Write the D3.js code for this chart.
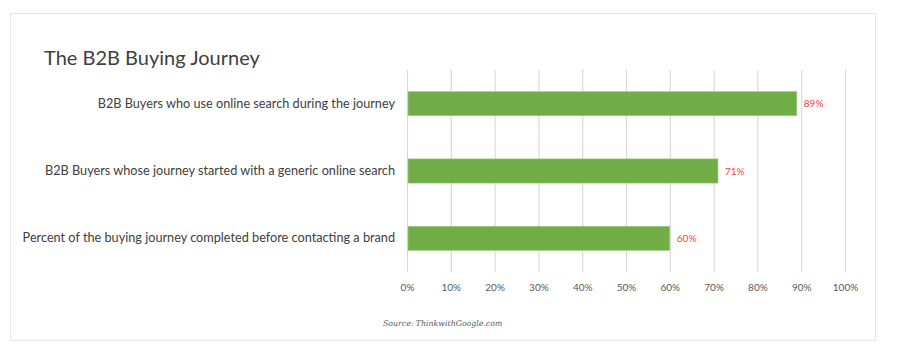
<!DOCTYPE html>
<html>
<head>
<meta charset="utf-8">
<script src="https://cdn.jsdelivr.net/npm/d3@7"></script>
<style>
  html, body { margin: 0; padding: 0; background: #fff; }
  svg { display: block; }
</style>
</head>
<body>
<svg id="chart" width="899" height="354"></svg>
<script>
const title = "The B2B Buying Journey";
const categories = [
  "B2B Buyers who use online search during the journey",
  "B2B Buyers whose journey started with a generic online search",
  "Percent of the buying journey completed before contacting a brand"
];
const values = [0.89, 0.71, 0.60];
const tickValues = [0, 0.1, 0.2, 0.3, 0.4, 0.5, 0.6, 0.7, 0.8, 0.9, 1.0];
const source = "Source: ThinkwithGoogle.com";

const svg = d3.select("#chart");
const font = "Lato, 'Open Sans', sans-serif";

// outer frame
svg.append("rect")
  .attr("x", 10.5).attr("y", 13.5)
  .attr("width", 865).attr("height", 327)
  .attr("fill", "#fff").attr("stroke", "#e6e6e6").attr("stroke-width", 1);

svg.append("text")
  .attr("x", 44).attr("y", 65)
  .attr("font-family", font).attr("font-size", 20)
  .attr("fill", "#404040")
  .text(title);

const x = d3.scaleLinear().domain([0, 1]).range([407, 845]);
const y = d3.scaleBand().domain(categories).range([70, 272]).paddingInner(0.64).paddingOuter(0.32);

// gridlines
svg.append("g").selectAll("line").data(tickValues).join("line")
  .attr("x1", d => x(d) + 0.5).attr("x2", d => x(d) + 0.5)
  .attr("y1", 70).attr("y2", 272)
  .attr("stroke", "#d9d9d9").attr("stroke-width", 1.2);

// x axis labels
const xAxis = d3.axisBottom(x).tickValues(tickValues).tickFormat(d3.format(".0%")).tickSize(0).tickPadding(0);
const gx = svg.append("g").attr("transform", "translate(0,284)").call(xAxis);
gx.select(".domain").remove();
gx.selectAll("text")
  .attr("font-family", font).attr("font-size", 10)
  .attr("fill", "#595959");

// y axis labels
const yAxis = d3.axisLeft(y).tickSize(0).tickPadding(12);
const gy = svg.append("g").attr("transform", "translate(407,0)").call(yAxis);
gy.select(".domain").remove();
gy.selectAll("text")
  .attr("font-family", font).attr("font-size", 12.7)
  .attr("fill", "#404040");

// bars
svg.append("g").selectAll("rect").data(values).join("rect")
  .attr("x", x(0) + 1)
  .attr("y", (d, i) => y(categories[i]))
  .attr("width", d => x(d) - x(0) - 1)
  .attr("height", y.bandwidth())
  .attr("fill", "#70ad47")
  .attr("stroke", "#a9d18e").attr("stroke-width", 0.6);

// data labels
svg.append("g").selectAll("text").data(values).join("text")
  .attr("x", d => x(d) + 7)
  .attr("y", (d, i) => y(categories[i]) + y.bandwidth() / 2)
  .attr("dy", "0.35em")
  .attr("font-family", font).attr("font-size", 10)
  .attr("fill", "#ff3b3b")
  .text(d => d3.format(".0%")(d));

svg.append("text")
  .attr("x", 383).attr("y", 326)
  .attr("font-family", "'DejaVu Serif', 'Liberation Serif', serif")
  .attr("font-style", "italic").attr("font-size", 7.8)
  .attr("fill", "#595959")
  .text(source);
</script>
</body>
</html>
